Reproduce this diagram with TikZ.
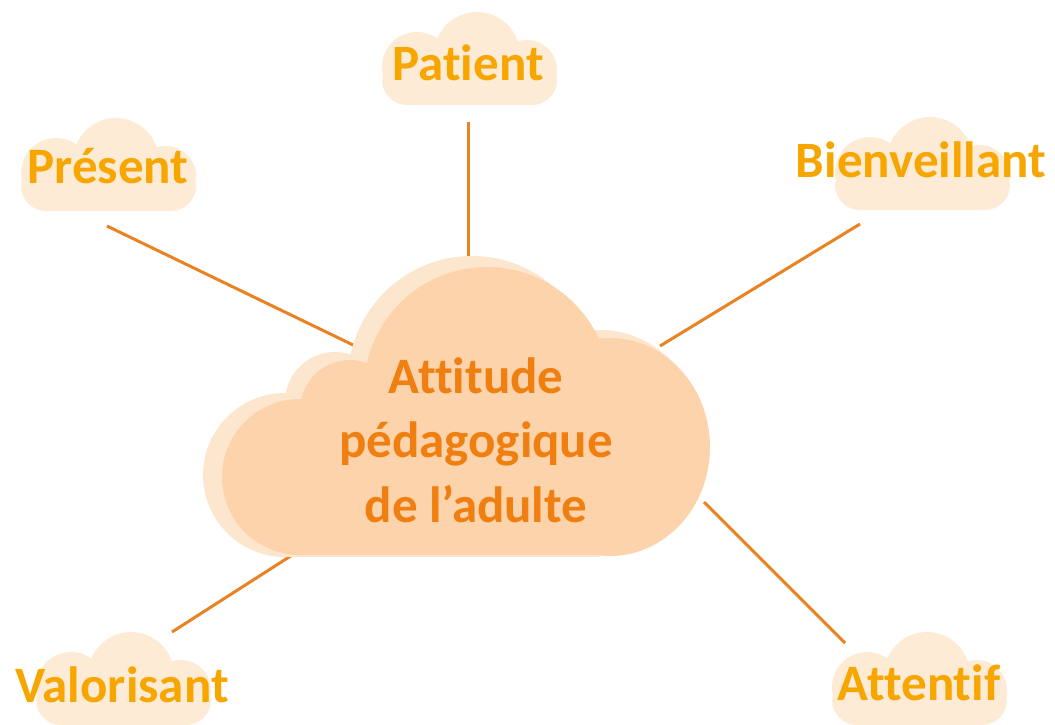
\documentclass[tikz,border=0pt]{standalone}
\usepackage{fontspec}
\setmainfont[Ligatures=NoCommon]{Carlito}
\definecolor{orangefonce}{HTML}{EE7F10}
\definecolor{ambre}{HTML}{F7A600}
\definecolor{trait}{HTML}{E98222}
\definecolor{peche}{HTML}{FCD3AB}
\definecolor{pechepale}{HTML}{FDE6CE}
\definecolor{creme}{HTML}{FDEBD6}
\tikzset{
  bulle/.pic={
    \fill[creme] (35,55) circle [radius=35pt];
    \fill[creme] (95,43) circle [radius=43pt];
    \fill[creme] (145,58) circle [radius=30pt];
    \fill[creme, rounded corners=25pt] (0,45) rectangle (175,93);
  }
}

\begin{document}
\begin{tikzpicture}[x=1pt,y=-1pt]
        \useasboundingbox (0,0) rectangle (1055,724);

        % liens
        \coordinate (P1) at (468,122);
        \coordinate (P2) at (468,270);
        \coordinate (R1) at (107,226);
        \coordinate (R2) at (380,358);
        \coordinate (B1) at (860,224);
        \coordinate (B2) at (660,346);
        \coordinate (V1) at (172,632);
        \coordinate (V2) at (300,550);
        \coordinate (A1) at (845,643);
        \coordinate (A2) at (704,502);
        \begin{scope}[every edge/.style={draw=trait,line width=3pt}]
            \path (P1) edge (P2);
            \path (R1) edge (R2);
            \path (B1) edge (B2);
            \path (V1) edge (V2);
            \path (A1) edge (A2);
        \end{scope}

        % petits nuages
        \pic at (382,12)  {bulle};
        \pic at (21,118)  {bulle};
        \pic at (835,117) {bulle};
        \pic at (36,632)  {bulle};
        \pic at (832,632) {bulle};

        % grand nuage, ombre puis face
        \begin{scope}[pechepale]
            \fill (285,475) circle [radius=82pt];
            \fill (335,402) circle [radius=50pt];
            \fill (472,380) circle [radius=124pt];
            \fill (600,440) ellipse [x radius=103pt, y radius=110pt];
            \fill (285,470) rectangle (600,557);
            \fill (305,410) rectangle (600,557);
        \end{scope}
        \begin{scope}[peche]
            \fill (300,477) circle [radius=78pt];
            \fill (350,410) circle [radius=50pt];
            \fill (487,390) circle [radius=123pt];
            \fill (610,447) ellipse [x radius=100pt, y radius=109pt];
            \fill (300,470) rectangle (610,555);
            \fill (320,420) rectangle (610,555);
        \end{scope}

        \begin{scope}[every node/.style={text=ambre,font=\bfseries\fontsize{51}{60}\selectfont,anchor=base,inner sep=0pt}]
            \node (patient)      at (468,80)  {Patient};
            \node (present)      at (108,183) {Présent};
            \node (bienveillant) at (921,177) {Bienveillant};
            \node (valorisant)   at (122,702) {Valorisant};
            \node (attentif)     at (919,700) {Attentif};
        \end{scope}

        \node[text=orangefonce, align=center, inner sep=0pt,
              font=\bfseries\fontsize{51}{64.5}\selectfont] (attitude) at (476,440)
              {Attitude\\pédagogique\\de l’adulte};
    \end{tikzpicture}
\end{document}
